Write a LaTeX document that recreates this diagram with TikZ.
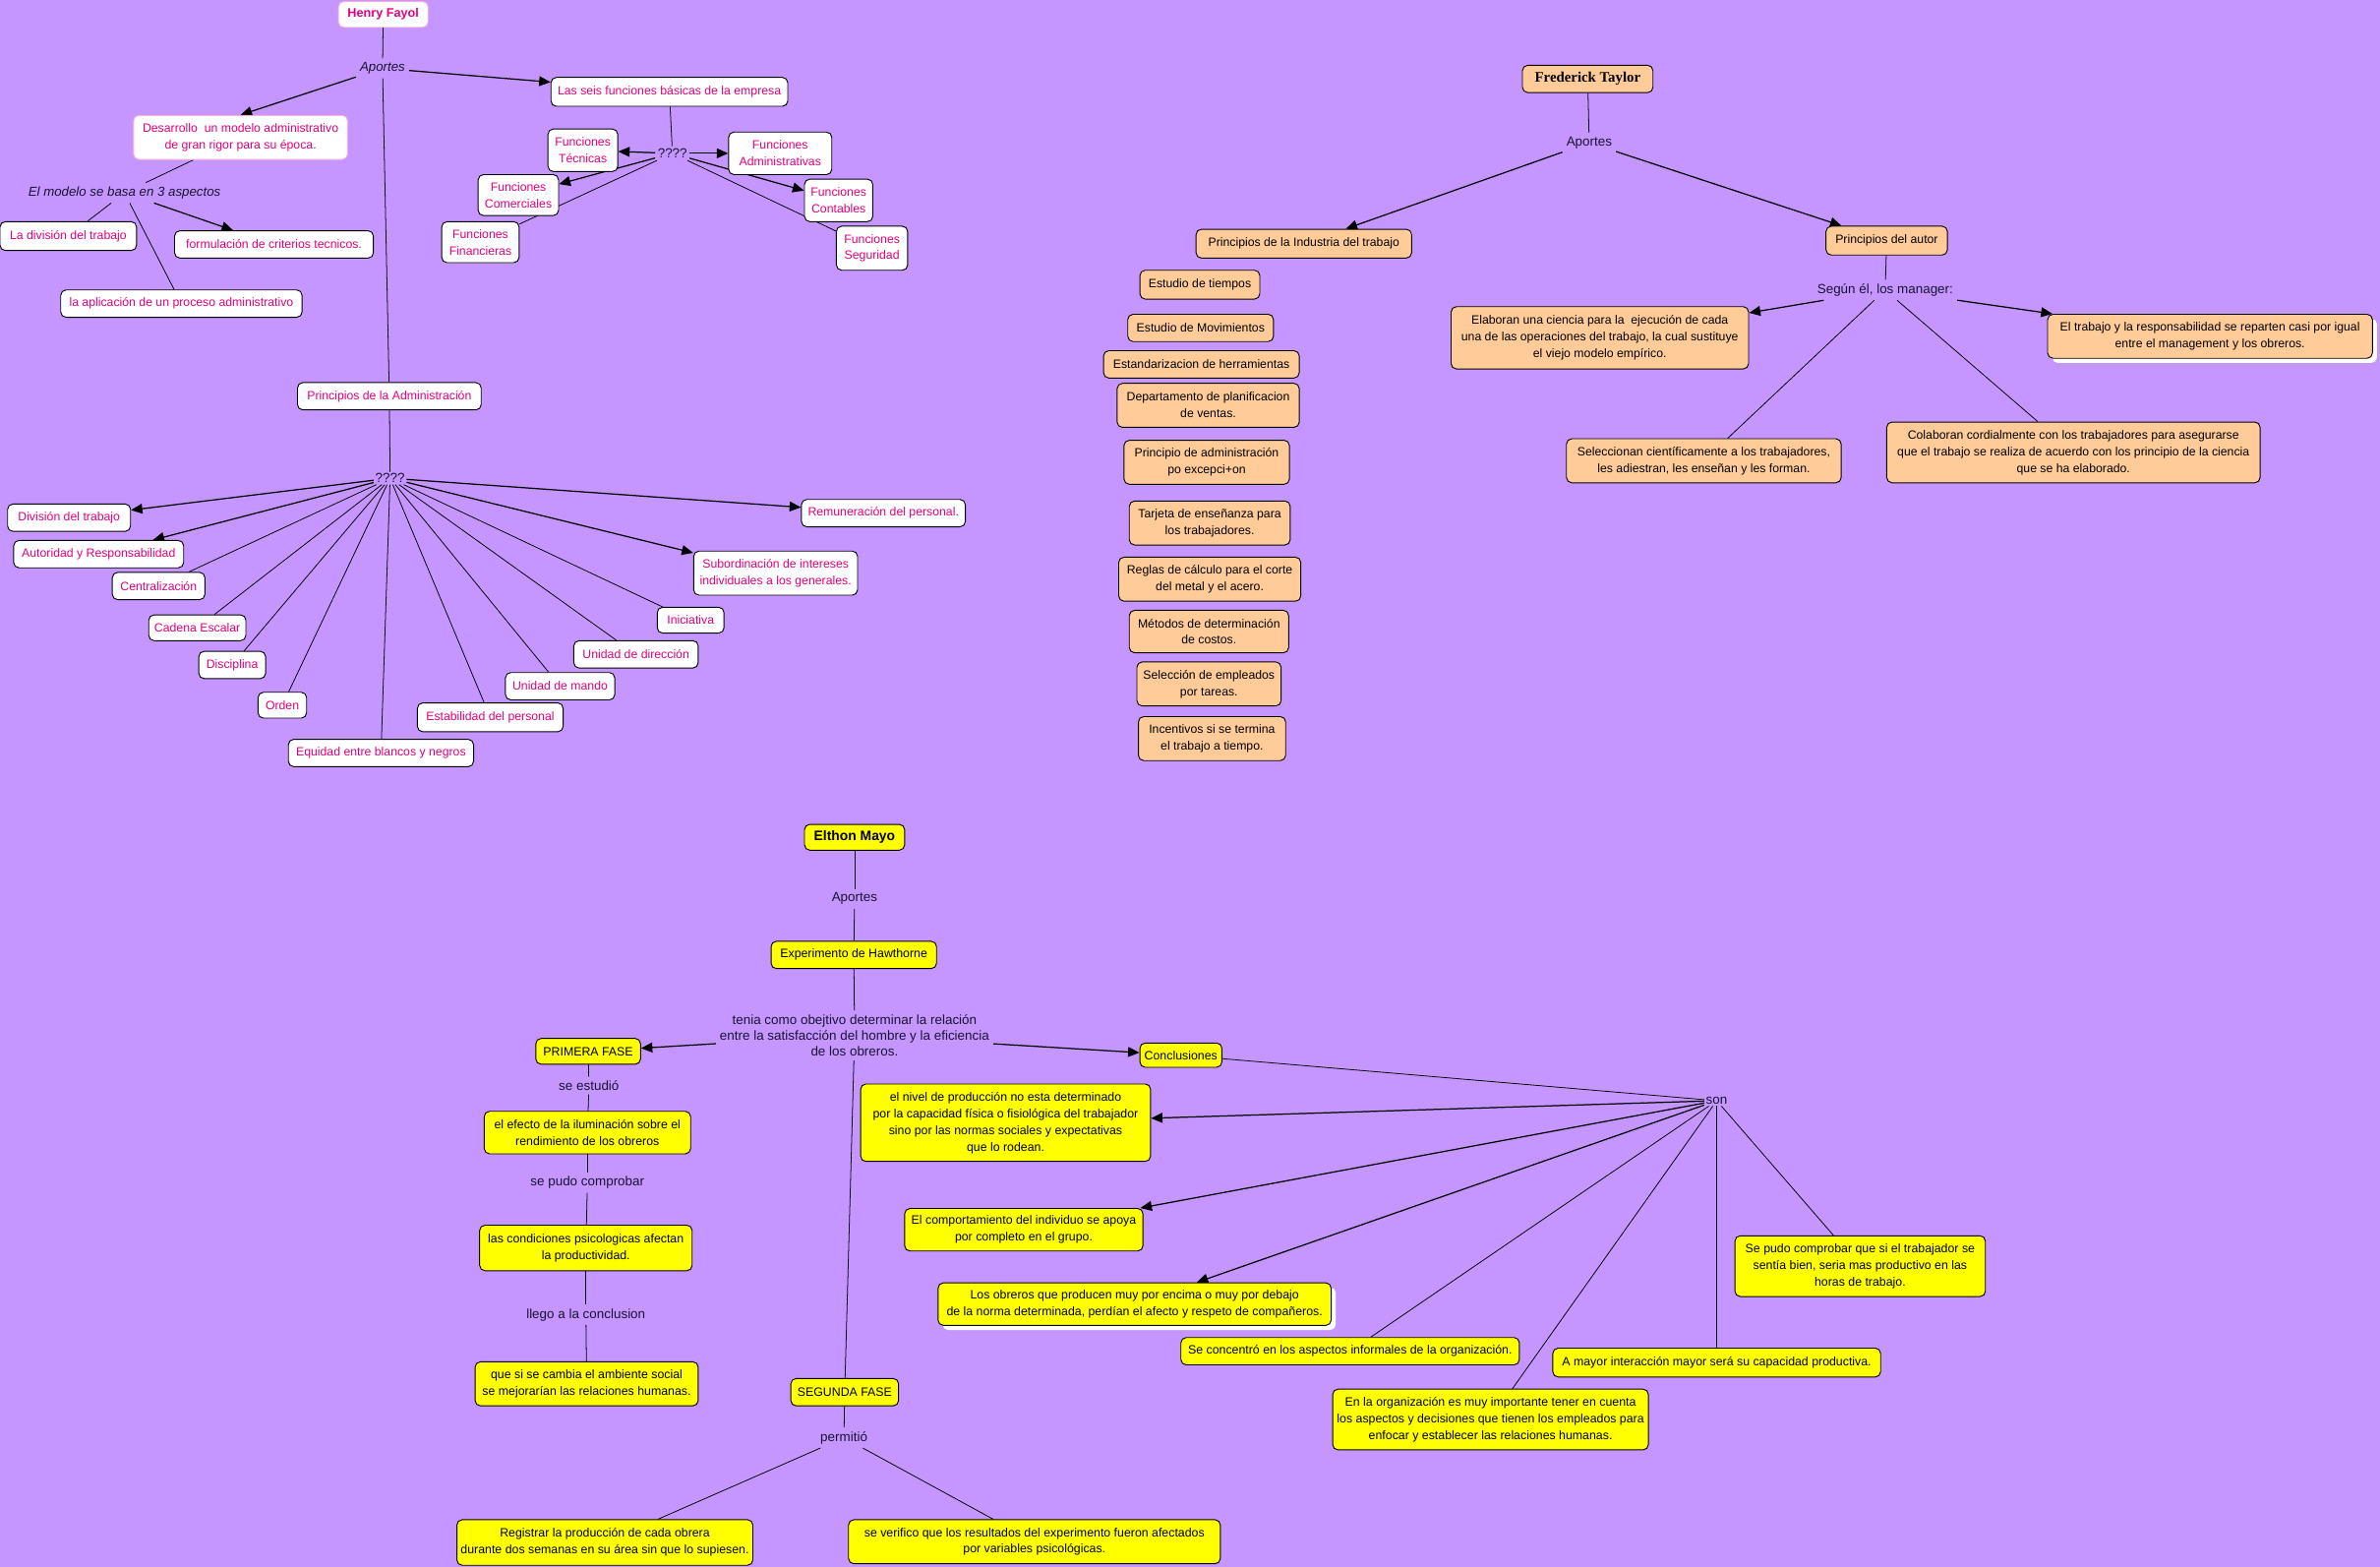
\documentclass[tikz,border=0pt]{standalone}
\usepackage{fontspec}
\setmainfont{Liberation Sans}
\newfontfamily\tserif{Liberation Serif}
\usetikzlibrary{arrows.meta,shadows}
\definecolor{bgc}{RGB}{197,150,255}
\definecolor{fpink}{RGB}{228,0,124}
\definecolor{fbord}{RGB}{255,175,215}
\definecolor{tor}{RGB}{255,204,153}
\definecolor{myel}{RGB}{255,255,0}
\definecolor{lbl}{RGB}{25,20,50}
\pgfdeclarelayer{back}
\pgfdeclarelayer{lines}
\pgfsetlayers{back,lines,main}
\begin{document}
\begin{tikzpicture}[x=1pt,y=-1pt,
 every node/.style={inner sep=0pt, align=center},
 sz/.style 2 args={minimum width=#1pt, minimum height=#2pt},
 bx/.style={draw=black, line width=0.6pt, rounded corners=3.5pt},
 fay/.style={bx, fill=white, text=fpink, font=\fontsize{7.95}{11}\selectfont},
 tay/.style={bx, fill=tor, text=black, font=\fontsize{7.95}{11}\selectfont},
 may/.style={bx, fill=myel, text=black, font=\fontsize{8.0}{11}\selectfont},
 lab/.style={text=lbl, inner sep=2.5pt, font=\fontsize{8.7}{10.5}\selectfont},
 ilab/.style={lab, font=\fontsize{8.6}{10.5}\selectfont\itshape},
 ln/.style={draw=black, line width=0.5pt},
 ar/.style={draw=black, line width=0.8pt, -{Triangle[length=7.5pt,width=6.5pt]}},
 wsh/.style={drop shadow={fill=white, opacity=1, shadow xshift=3pt, shadow yshift=-3pt}}
]
\useasboundingbox (0,0) rectangle (1568,1032);
\begin{pgfonlayer}{back}
\fill[bgc] (0,0) rectangle (1568,1032);
\end{pgfonlayer}

% ---------------- Henry Fayol ----------------
\node[fay, draw=fbord, sz={59}{17}, font=\fontsize{8.2}{11}\selectfont\bfseries] (hf) at (252.5,9.5) {Henry Fayol};
\node[ilab] (ap1) at (252,45) {Aportes};
\node[fay, sz={156}{19}] (seis) at (441,60.5) {Las seis funciones básicas de la empresa};
\node[fay, draw=fbord, sz={141}{29}] (des) at (158.5,90.5) {Desarrollo\ \ un modelo administrativo\\de gran rigor para su época.};
\node[ilab] (mod) at (82,127) {El modelo se basa en 3 aspectos};
\node[fay, sz={90}{19}] (divt) at (45,155.5) {La división del trabajo};
\node[fay, sz={131}{18}] (form) at (180.5,161) {formulación de criterios tecnicos.};
\node[fay, sz={159}{18}] (aplic) at (119.5,200) {la aplicación de un proceso administrativo};
\node[lab, inner sep=1.5pt] (q1) at (443,101) {????};
\node[fay, sz={46}{28}] (ftec) at (384,99) {Funciones\\Técnicas};
\node[fay, sz={68}{28}] (fadm) at (514,101) {Funciones\\Administrativas};
\node[fay, sz={53}{27}] (fcom) at (341.5,128.5) {Funciones\\Comerciales};
\node[fay, sz={45}{28}] (fcont) at (552.5,132) {Funciones\\Contables};
\node[fay, sz={51}{27}] (ffin) at (316.5,159.5) {Funciones\\Financieras};
\node[fay, sz={47}{29}] (fseg) at (574.5,163.5) {Funciones\\Seguridad};
\node[fay, sz={121}{18}] (princ) at (256.5,261) {Principios de la Administración};
\node[lab, inner sep=1pt] (q2) at (257,315) {????};
\node[fay, sz={81}{18}] (divis) at (45.5,341) {División del trabajo};
\node[fay, sz={112}{18}] (autor) at (65,365) {Autoridad y Responsabilidad};
\node[fay, sz={61}{18}] (centr) at (104.5,386) {Centralización};
\node[fay, sz={64}{17}] (caden) at (130,413.5) {Cadena Escalar};
\node[fay, sz={44}{18}] (disci) at (153,438) {Disciplina};
\node[fay, sz={32}{17}] (orden) at (186,464.5) {Orden};
\node[fay, sz={122}{18}] (equid) at (251,496) {Equidad entre blancos y negros};
\node[fay, sz={96}{19}] (estab) at (323,472.5) {Estabilidad del personal};
\node[fay, sz={72}{18}] (umando) at (369,452) {Unidad de mando};
\node[fay, sz={82}{18}] (udir) at (419,431) {Unidad de dirección};
\node[fay, sz={44}{17}] (inic) at (455,408.5) {Iniciativa};
\node[fay, sz={108}{29}] (subord) at (511,377.5) {Subordinación de intereses\\individuales a los generales.};
\node[fay, sz={108}{18}] (remun) at (582,338) {Remuneración del personal.};

% ---------------- Frederick Taylor ----------------
\node[tay, sz={86}{18}, font=\fontsize{9.6}{11}\tserif\bfseries] (ft) at (1046,52) {Frederick Taylor};
\node[lab] (ap2) at (1047,94) {Aportes};
\node[tay, sz={142}{19}] (pindus) at (859,160.5) {Principios de la Industria del trabajo};
\node[tay, sz={80}{19}] (pautor) at (1243,158.5) {Principios del autor};
\node[lab] (segun) at (1242,191) {Según él, los manager:};
\node[tay, sz={196}{41}] (elab) at (1054,222.5) {Elaboran una ciencia para la\ \ ejecución de cada\\una de las operaciones del trabajo, la cual sustituye\\el viejo modelo empírico.};
\node[tay, wsh, sz={214}{29}] (trab) at (1456,221.5) {El trabajo y la responsabilidad se reparten casi por igual\\entre el management y los obreros.};
\node[tay, sz={181}{29}] (selec) at (1122.5,303.5) {Seleccionan científicamente a los trabajadores,\\les adiestran, les enseñan y les forman.};
\node[tay, sz={246}{40}] (colab) at (1366,298) {Colaboran cordialmente con los trabajadores para asegurarse\\que el trabajo se realiza de acuerdo con los principio de la ciencia\\que se ha elaborado.};
\node[tay, sz={79}{19}] (tiempos) at (790.5,187.5) {Estudio de tiempos};
\node[tay, sz={96}{18}] (movim) at (791,216) {Estudio de Movimientos};
\node[tay, sz={129}{18}] (estand) at (791.5,240) {Estandarizacion de herramientas};
\node[tay, sz={120}{29}] (depto) at (796,267) {Departamento de planificacion\\de ventas.};
\node[tay, sz={109}{29}] (princadm) at (795,304.5) {Principio de administración\\po excepci+on};
\node[tay, sz={106}{29}] (tarjeta) at (797,344.5) {Tarjeta de enseñanza para\\los trabajadores.};
\node[tay, sz={120}{29}] (reglas) at (797,381.5) {Reglas de cálculo para el corte\\del metal y el acero.};
\node[tay, sz={105}{28}] (metodos) at (796.5,416) {Métodos de determinación\\de costos.};
\node[tay, sz={95}{29}] (selecc) at (796.5,450.5) {Selección de empleados\\por tareas.};
\node[tay, sz={97}{29}] (incent) at (798.5,486.5) {Incentivos si se termina\\el trabajo a tiempo.};

% ---------------- Elthon Mayo ----------------
\node[may, sz={66}{17}, font=\fontsize{9}{11}\selectfont\bfseries] (em) at (563,551.5) {Elthon Mayo};
\node[lab] (ap3) at (563,592) {Aportes};
\node[may, sz={109}{18}] (exph) at (562.5,629) {Experimento de Hawthorne};
\node[lab] (tenia) at (563,682) {tenia como obejtivo determinar la relación\\entre la satisfacción del hombre y la eficiencia\\de los obreros.};
\node[may, sz={69}{17}] (primera) at (387.5,692.5) {PRIMERA FASE};
\node[may, sz={54}{16}] (concl) at (778,695) {Conclusiones};
\node[lab] (sestu) at (388,715) {se estudió};
\node[may, sz={136}{28}] (efecto) at (387,746) {el efecto de la iluminación sobre el\\rendimiento de los obreros};
\node[lab] (spc) at (387,779) {se pudo comprobar};
\node[may, sz={140}{30}] (condic) at (386,822) {las condiciones psicologicas afectan\\la productividad.};
\node[lab] (llego) at (386,866) {llego a la conclusion};
\node[may, sz={147}{29}] (quesi) at (386.5,911.5) {que si se cambia el ambiente social\\se mejorarían las relaciones humanas.};
\node[may, sz={71}{18}] (segunda) at (556.5,917) {SEGUNDA FASE};
\node[lab] (permit) at (556,947) {permitió};
\node[may, sz={195}{30}] (regis) at (398.5,1016) {Registrar la producción de cada obrera\\durante dos semanas en su área sin que lo supiesen.};
\node[may, sz={245}{29}] (severif) at (681.5,1015.5) {se verifico que los resultados del experimento fueron afectados\\por variables psicológicas.};
\node[lab, inner sep=1pt] (son) at (1131,725) {son};
\node[may, sz={191}{51}] (nivel) at (662.5,739.5) {el nivel de producción no esta determinado\\por la capacidad física o fisiológica del trabajador\\sino por las normas sociales y expectativas\\que lo rodean.};
\node[may, sz={157}{28}] (comport) at (674.5,810) {El comportamiento del individuo se apoya\\por completo en el grupo.};
\node[may, wsh, sz={259}{28}] (obreros) at (747.5,859) {Los obreros que producen muy por encima o muy por debajo\\de la norma determinada, perdían el afecto y respeto de compañeros.};
\node[may, sz={223}{18}] (secon) at (889.5,890) {Se concentró en los aspectos informales de la organización.};
\node[may, sz={208}{40}] (enorg) at (982,935) {En la organización es muy importante tener en cuenta\\los aspectos y decisiones que tienen los empleados para\\enfocar y establecer las relaciones humanas.};
\node[may, sz={216}{19}] (amayor) at (1131,897.5) {A mayor interacción mayor será su capacidad productiva.};
\node[may, sz={165}{40}] (sepudo) at (1225.5,834) {Se pudo comprobar que si el trabajador se\\sentía bien, seria mas productivo en las\\horas de trabajo.};

% ---------------- connectors ----------------
\begin{pgfonlayer}{lines}
% Fayol
\draw[ln] (hf) -- (ap1);
\draw[ln] (ap1) -- (princ);
\draw[ar] (ap1) -- (des.north);
\draw[ar] (ap1) -- (seis);
\draw[ln] (des) -- (mod);
\draw[ln] (mod) -- (divt);
\draw[ar] (mod) -- (form);
\draw[ln] (mod) -- (aplic);
\draw[ln] (seis) -- (q1);
\draw[ar] (q1) -- (ftec);
\draw[ar] (q1) -- (fadm);
\draw[ar] (q1) -- (fcom);
\draw[ln] (q1) -- (ffin);
\draw[ar] (q1) -- (fcont);
\draw[ln] (q1) -- (fseg);
\draw[ln] (princ) -- (q2);
\draw[ar] (q2) -- (divis);
\draw[ar] (q2) -- (autor);
\draw[ln] (q2) -- (centr);
\draw[ln] (q2) -- (caden);
\draw[ln] (q2) -- (disci);
\draw[ln] (q2) -- (orden);
\draw[ln] (q2) -- (equid);
\draw[ln] (q2) -- (estab);
\draw[ln] (q2) -- (umando);
\draw[ln] (q2) -- (udir);
\draw[ln] (q2) -- (inic);
\draw[ar] (q2) -- (subord);
\draw[ar] (q2) -- (remun);
% Taylor
\draw[ln] (ft) -- (ap2);
\draw[ar] (ap2) -- (pindus);
\draw[ar] (ap2) -- (pautor);
\draw[ln] (pautor) -- (segun);
\draw[ar] (segun) -- (elab);
\draw[ar] (segun) -- (trab);
\draw[ln] (segun) -- (selec);
\draw[ln] (segun) -- (colab);
% Mayo
\draw[ln] (em) -- (ap3);
\draw[ln] (ap3) -- (exph);
\draw[ln] (exph) -- (tenia);
\draw[ar] (tenia) -- (primera);
\draw[ar] (tenia) -- (concl);
\draw[ln] (tenia) -- (segunda);
\draw[ln] (primera) -- (sestu);
\draw[ln] (sestu) -- (efecto);
\draw[ln] (efecto) -- (spc);
\draw[ln] (spc) -- (condic);
\draw[ln] (condic) -- (llego);
\draw[ln] (llego) -- (quesi);
\draw[ln] (segunda) -- (permit);
\draw[ln] (permit) -- (regis);
\draw[ln] (permit) -- (severif);
\draw[ln] (concl) -- (son);
\draw[ar] (son) -- (nivel);
\draw[ar] (son) -- (comport);
\draw[ar] (son) -- (obreros);
\draw[ln] (son) -- (secon);
\draw[ln] (son) -- (enorg);
\draw[ln] (son) -- (amayor);
\draw[ln] (son) -- (sepudo);
\end{pgfonlayer}
\end{tikzpicture}
\end{document}
